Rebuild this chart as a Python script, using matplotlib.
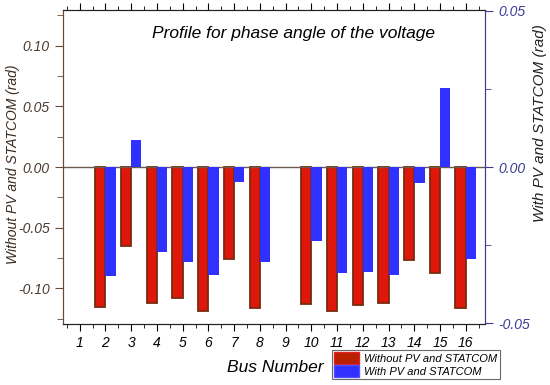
import matplotlib
matplotlib.use("Agg")
import matplotlib.pyplot as plt
from matplotlib.ticker import MultipleLocator, FormatStrFormatter
from matplotlib.patches import Patch

buses = list(range(1, 17))
without_pv = [0.0, -0.1155, -0.0655, -0.1125, -0.108, -0.1187, -0.0762, -0.1166,
              0.0, -0.1127, -0.1187, -0.1135, -0.112, -0.0764, -0.0875, -0.1162]
with_pv = [0.0, -0.0348, 0.0086, -0.0271, -0.0304, -0.0344, -0.0049, -0.0305,
           0.0, -0.0235, -0.0339, -0.0335, -0.0344, -0.0052, 0.0252, -0.0294]
label_without = "Without PV and STATCOM"
label_with = "With PV and STATCOM"
title = "Profile for phase angle of the voltage"

plt.rcParams['font.family'] = ['Liberation Sans', 'DejaVu Sans']

fig = plt.figure(figsize=(5.5, 3.85), dpi=100)
ax = fig.add_axes([0.1145, 0.1584, 0.7675, 0.8156])
ax2 = ax.twinx()

red_face = '#df170b'
red_edge = '#7a2a10'
blue_face = '#3030ff'
left_col = '#6b4a35'
right_col = '#3c3c96'

w = 0.4
red_x = [b - w / 2 for b in buses]
red_edges = [red_edge if v != 0 else 'none' for v in without_pv]
ax.bar(red_x, without_pv, width=w, color=red_face,
       edgecolor=red_edges, linewidth=1.3, zorder=3)
ax2.bar([b + w / 2 for b in buses], with_pv, width=w, color=blue_face,
        edgecolor='none', zorder=3)

ax.axhline(0, color='#6a5a50', lw=1.0, zorder=4)

ylim_left = 0.1295
ylim_right = 0.0502
ax.set_xlim(0.35, 16.75)
ax.set_ylim(-ylim_left, ylim_left)
ax2.set_ylim(-ylim_right, ylim_right)

ax.set_xticks(buses)
ax.set_xticklabels([str(b) for b in buses], fontstyle='italic', fontsize=10)
ax.xaxis.set_minor_locator(MultipleLocator(0.5))
ax.tick_params(axis='x', which='major', direction='out', length=5, top=True)
ax.tick_params(axis='x', which='minor', direction='out', length=3, top=True)

ax.yaxis.set_major_locator(MultipleLocator(0.05))
ax.yaxis.set_minor_locator(MultipleLocator(0.025))
ax.yaxis.set_major_formatter(FormatStrFormatter('%.2f'))
ax.tick_params(axis='y', which='major', direction='out', length=6, color=left_col,
               labelcolor='#4a3a30', labelsize=10)
ax.tick_params(axis='y', which='minor', direction='out', length=4, color=left_col)
for t in ax.get_yticklabels():
    t.set_fontstyle('italic')

ax2.yaxis.set_major_locator(MultipleLocator(0.05))
ax2.yaxis.set_minor_locator(MultipleLocator(0.025))
ax2.yaxis.set_major_formatter(FormatStrFormatter('%.2f'))
ax2.tick_params(axis='y', which='major', direction='out', length=6, color=right_col,
                labelcolor=right_col, labelsize=10)
ax2.tick_params(axis='y', which='minor', direction='out', length=4, color=right_col)
for t in ax2.get_yticklabels():
    t.set_fontstyle('italic')

for a in (ax, ax2):
    a.spines['left'].set_color(left_col)
    a.spines['right'].set_color(right_col)
    a.spines['bottom'].set_color('#222222')
    a.spines['top'].set_color('#222222')

ax.set_ylabel(label_without + " (rad)", fontstyle='italic', fontsize=10,
              color='#3a2a20')
ax.yaxis.set_label_coords(-0.102, 0.51)
ax2.set_ylabel(label_with + " (rad)", fontstyle='italic', fontsize=11,
               color='#222222')
ax2.yaxis.set_label_coords(1.113, 0.64)
ax.set_xlabel("Bus Number", fontstyle='italic', fontsize=12.5)
ax.xaxis.set_label_coords(0.502, -0.115)

ax.text(0.547, 0.925, title, transform=ax.transAxes, ha='center', va='center',
        fontstyle='italic', fontsize=12.5)

handles = [Patch(facecolor='#b82000', edgecolor='#e02020', label=label_without),
           Patch(facecolor=blue_face, edgecolor='#5050ff', label=label_with)]
leg = fig.legend(handles=handles, loc='upper left', bbox_to_anchor=(0.604, 0.091),
                 fontsize=8, frameon=True, fancybox=False, edgecolor='#444444',
                 handlelength=2.2, handleheight=1.3, borderpad=0.2,
                 labelspacing=0.05, handletextpad=0.5, borderaxespad=0)
leg.get_frame().set_linewidth(0.8)
for t in leg.get_texts():
    t.set_fontstyle('italic')

fig.savefig("out.png", dpi=100)
